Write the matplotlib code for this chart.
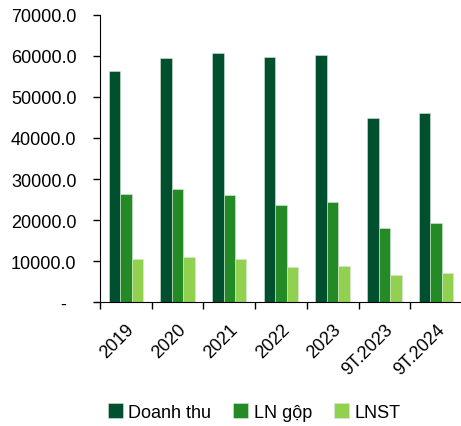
import numpy as np
import matplotlib.pyplot as plt

plt.rcParams['font.family'] = ['Liberation Sans', 'DejaVu Sans']

categories = ['2019', '2020', '2021', '2022', '2023', '9T.2023', '9T.2024']
doanh_thu = [56200, 59500, 60700, 59800, 60200, 44800, 46200]
ln_gop = [26400, 27500, 26200, 23700, 24400, 18000, 19300]
lnst = [10500, 11100, 10500, 8500, 8900, 6500, 7100]

series = [('Doanh thu', doanh_thu, '#004f2f'),
          ('LN gộp', ln_gop, '#238a25'),
          ('LNST', lnst, '#92d050')]

fig = plt.figure(figsize=(4.61, 4.27), dpi=100)
ax = fig.add_axes([0.217, 0.29, 0.785, 0.673])

x = np.arange(len(categories))
w = 0.222
for i, (name, vals, col) in enumerate(series):
    ax.bar(x + (i - 1) * w, vals, w, color=col, label=name,
           edgecolor='#d8e8d8', linewidth=0.4)

ax.set_xlim(-0.5, len(categories) - 0.5)
ax.set_ylim(0, 70000)
yt = np.arange(0, 70001, 10000)
ax.set_yticks(yt)
# zero shown as a dash, like accounting format
ax.set_yticklabels(['-  '] + ['%.1f' % v for v in yt[1:]])

ax.set_xticks(x)
ax.set_xticklabels(categories, rotation=45, ha='right', rotation_mode='anchor')
ax.set_xticks(np.arange(-0.5, len(categories)), minor=True)
ax.tick_params(axis='x', which='major', length=0, pad=13, labelsize=13)
ax.tick_params(axis='x', which='minor', length=5, width=1, direction='out')
ax.tick_params(axis='y', length=5, width=1, labelsize=13, pad=12)

ax.spines['top'].set_visible(False)
ax.spines['right'].set_visible(False)

fig.legend(loc='center', bbox_to_anchor=(254 / 461, 0.033), ncol=3, frameon=False,
           fontsize=13, handlelength=0.85, handleheight=0.85, handletextpad=0.3,
           columnspacing=1.2)

fig.savefig('out.png', dpi=100)
